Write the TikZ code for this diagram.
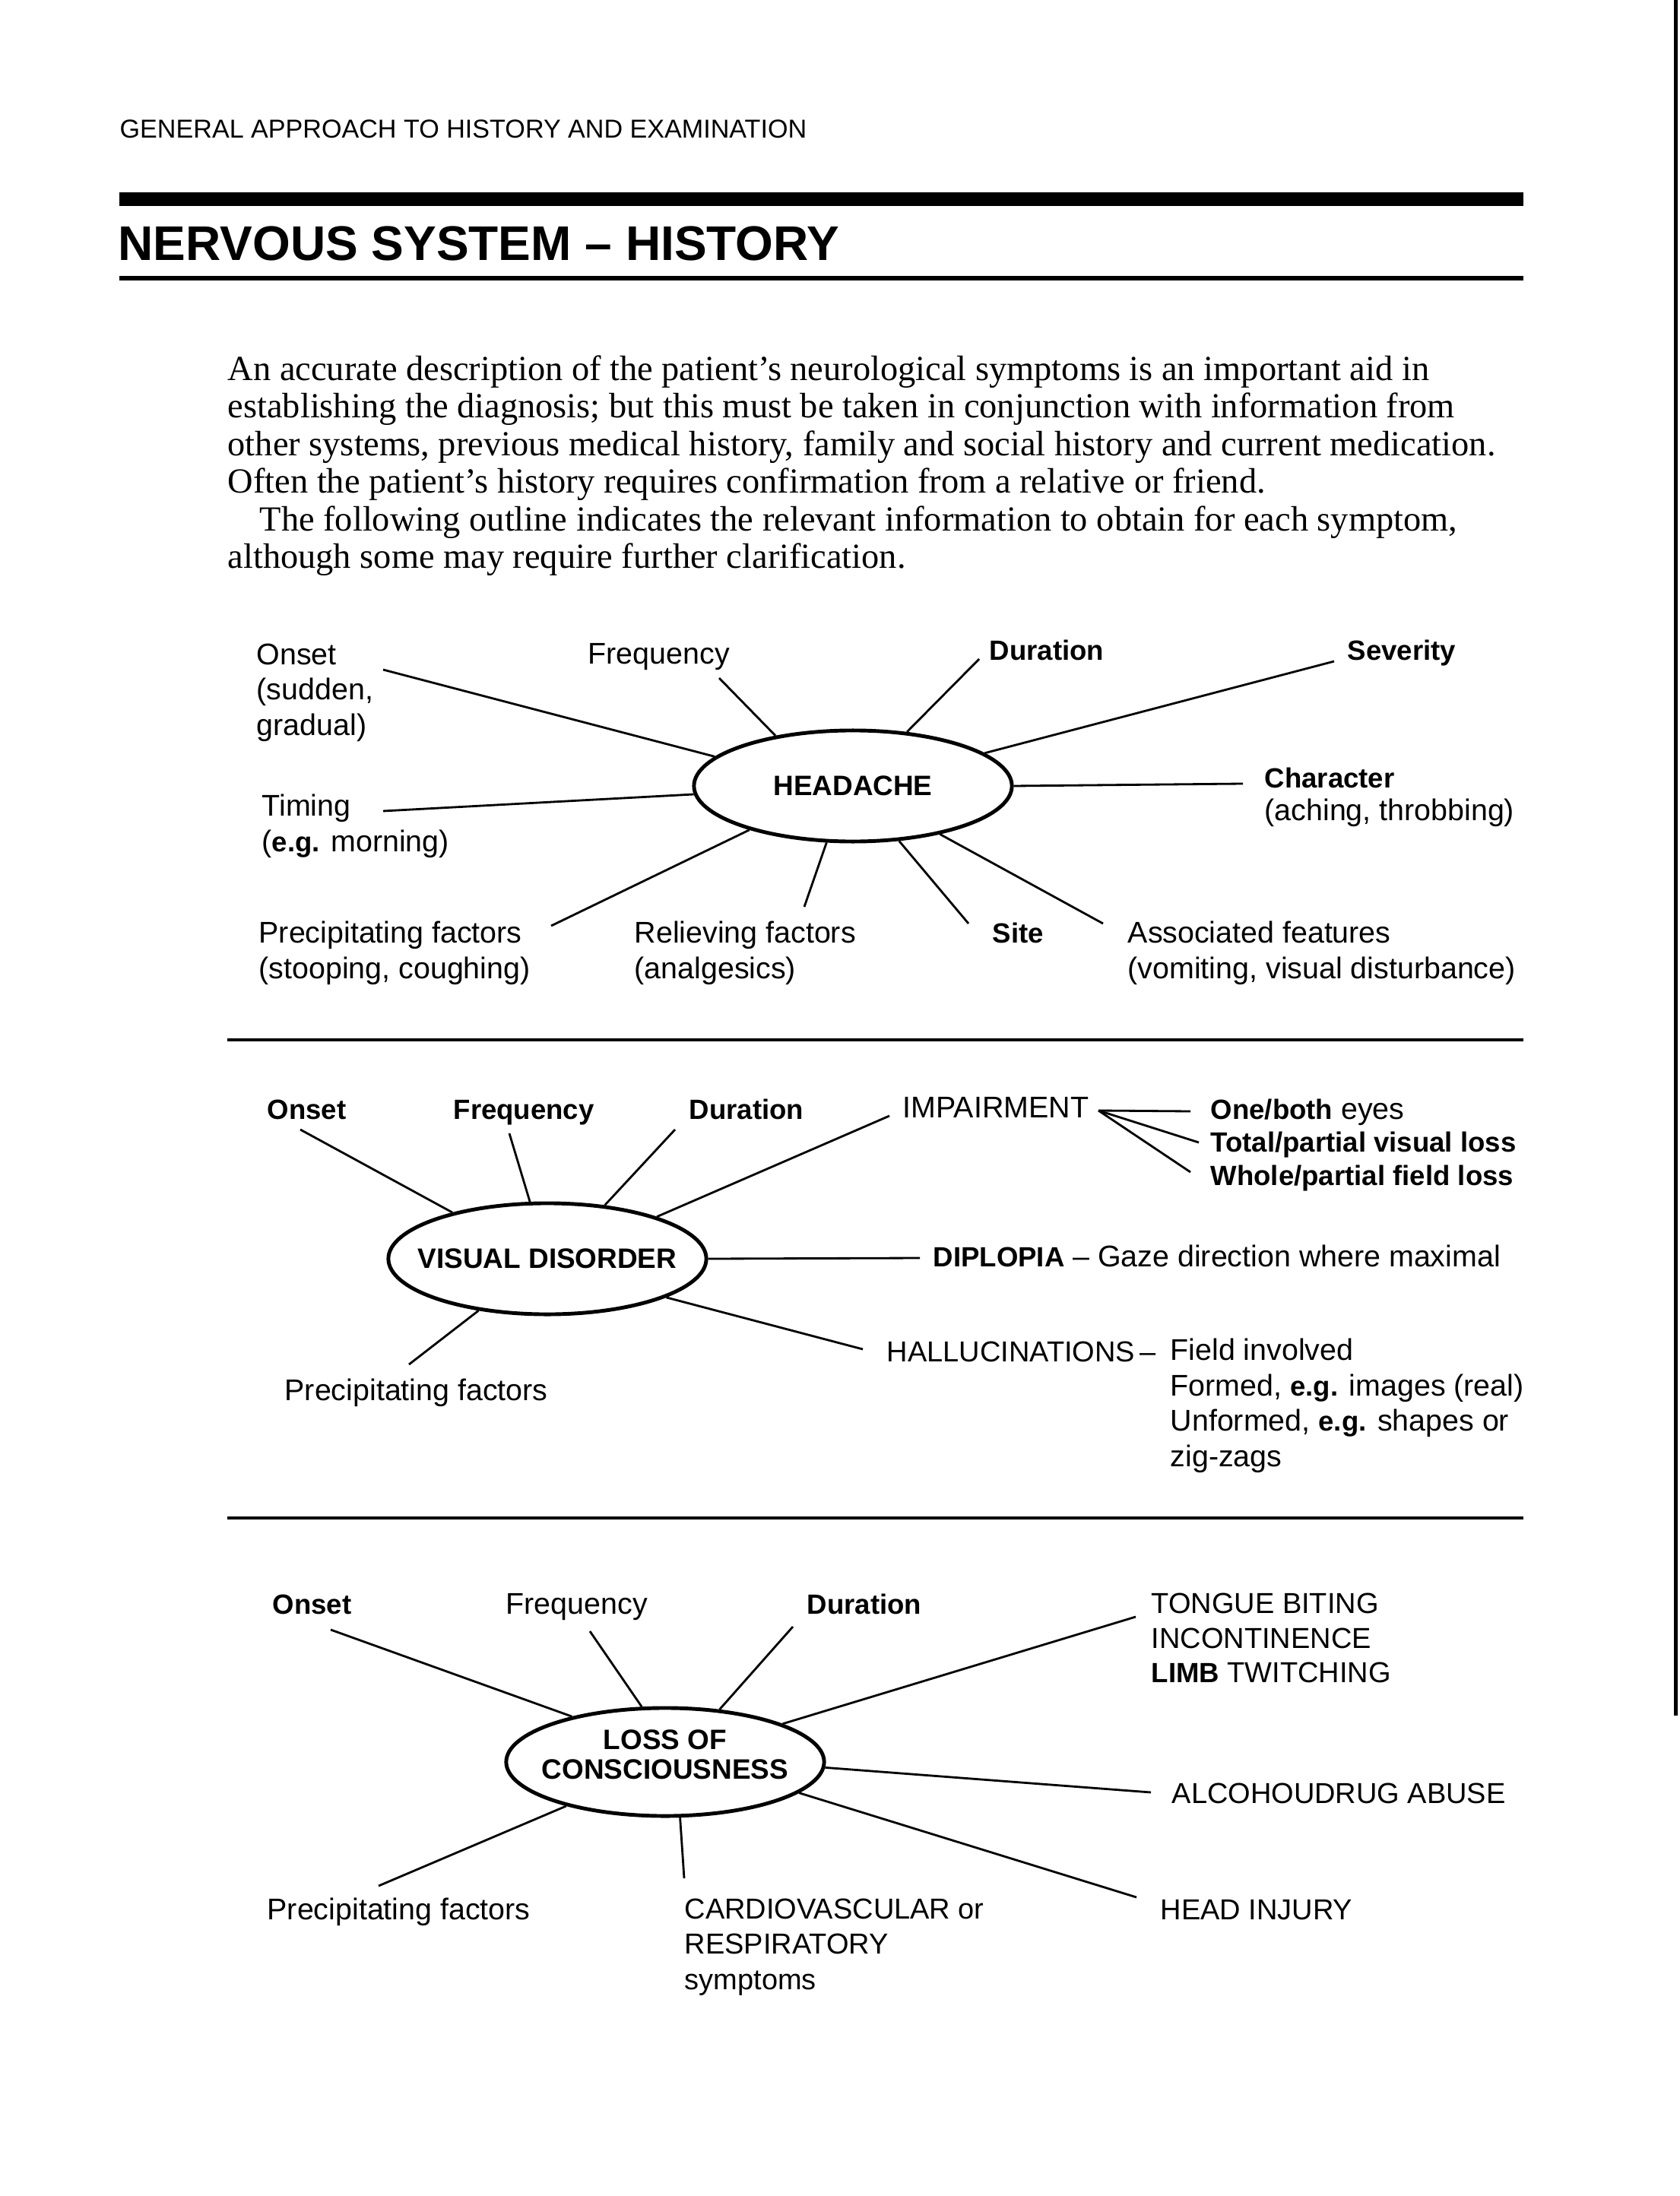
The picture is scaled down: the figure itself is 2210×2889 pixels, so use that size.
\documentclass[tikz,border=0pt]{standalone}
\usepackage{fontspec}
\setmainfont{Liberation Serif}
\setsansfont{Liberation Sans}
\usepackage{tikz}
\usetikzlibrary{shapes.geometric}

\newcommand{\leaffont}{\sffamily\fontsize{11.2}{13.2}\selectfont}
\newcommand{\capsfont}{\sffamily\fontsize{10.8}{13.2}\selectfont}
\newcommand{\hubfont}{\sffamily\bfseries\fontsize{10.5}{11.2}\selectfont}
\newcommand{\bl}[1]{{\fontsize{10.4}{13.2}\selectfont\bfseries #1}}

\tikzset{
  hub/.style={ellipse, draw, line width=1.4pt, minimum width=4.18cm, minimum height=1.46cm,
    inner xsep=-0.35cm, inner ysep=0pt, align=center, font=\hubfont},
  leaf/.style={anchor=base west, inner sep=0pt, align=left, font=\leaffont},
  capsleaf/.style={leaf, font=\capsfont},
  spoke/.style={line width=0.8pt},
  sepline/.style={line width=1.1pt}
}

\begin{document}
\begin{tikzpicture}[x=0.01cm, y=-0.01cm]
    \useasboundingbox (0,0) rectangle (2210,2889);

    % Page heading and rules
    \node[anchor=base west, inner sep=0pt, font=\sffamily\fontsize{9.7}{11}\selectfont] (runhead) at (157,182)
        {GENERAL APPROACH TO HISTORY AND EXAMINATION};
    \fill (157,253) rectangle (2004,271);
    \node[anchor=base west, inner sep=0pt, font=\sffamily\bfseries\fontsize{18.2}{20}\selectfont] (title) at (155,343)
        {NERVOUS SYSTEM -- HISTORY};
    \draw[line width=0.06cm] (157,366) -- (2004,366);
    \draw[line width=0.05cm] (2204,0) -- (2204,2257);

    % Introduction (base = last line)
    \node[anchor=base west, inner sep=0pt, align=left, font=\fontsize{13.2}{14.1}\selectfont] (intro) at (299,748)
        {An accurate description of the patient's neurological symptoms is an important aid in\\
         establishing the diagnosis; but this must be taken in conjunction with information from\\
         other systems, previous medical history, family and social history and current medication.\\
         Often the patient's history requires confirmation from a relative or friend.\\
         \hspace*{0.42cm}The following outline indicates the relevant information to obtain for each symptom,\\
         although some may require further clarification.};

    % Headache
    \node[hub] (hd) at (1122,1034) {HEADACHE};
    \node[leaf] (hOnset) at (337,967) {Onset\\(sudden,\\gradual)};
    \node[leaf] (hFreq) at (773,874) {Frequency};
    \node[leaf] (hDur) at (1301,869) {\bl{Duration}};
    \node[leaf] (hSev) at (1772,869) {\bl{Severity}};
    \node[leaf, font=\sffamily\fontsize{11.2}{12}\selectfont] (hChar) at (1663,1079) {\bl{Character}\\(aching, throbbing)};
    \node[leaf] (hTim) at (344,1120) {Timing\\(\bl{e.g.} morning)};
    \node[leaf] (hPrec) at (340,1287) {Precipitating factors\\(stooping, coughing)};
    \node[leaf] (hRel) at (834,1287) {Relieving factors\\(analgesics)};
    \node[leaf] (hSite) at (1305,1240) {\bl{Site}};
    \node[leaf] (hAssoc) at (1483,1287) {Associated features\\(vomiting, visual disturbance)};
    \coordinate (hOnEnd) at (504,881);
    \coordinate (hFrEnd) at (946,892);
    \coordinate (hDuEnd) at (1288,867);
    \coordinate (hSeEnd) at (1755,870);
    \coordinate (hChEnd) at (1635,1031);
    \coordinate (hTiEnd) at (504,1067);
    \coordinate (hPrEnd) at (725,1218);
    \coordinate (hReEnd) at (1058,1193);
    \coordinate (hSiEnd) at (1274,1215);
    \coordinate (hAsEnd) at (1451,1215);
    \foreach \ang/\tip in {168/hOnEnd, 147/hFrEnd, 45/hDuEnd, 14/hSeEnd, 0/hChEnd,
                           183/hTiEnd, 203/hPrEnd, 245/hReEnd, 310/hSiEnd, 331/hAsEnd}
        \draw[spoke] (\tip) -- (hd.\ang);

    \draw[sepline] (299,1368) -- (2004,1368);

    % Visual disorder
    \node[hub] (vd) at (720,1656) {VISUAL DISORDER};
    \node[leaf] (vOnset) at (351,1472) {\bl{Onset}};
    \node[leaf] (vFreq) at (596,1472) {\bl{Frequency}};
    \node[leaf] (vDur) at (906,1472) {\bl{Duration}};
    \node[leaf] (vImp) at (1187,1470) {IMPAIRMENT};
    \node[leaf, font=\sffamily\fontsize{11.2}{12.3}\selectfont] (vEyes) at (1592,1559)
        {\bl{One/both} eyes\\\bl{Total/partial visual loss}\\\bl{Whole/partial field loss}};
    \node[leaf] (vDip) at (1227,1666) {\bl{DIPLOPIA} -- Gaze direction where maximal};
    \node[capsleaf] (vHal) at (1166,1791) {HALLUCINATIONS\,--};
    \node[leaf] (vField) at (1539,1929)
        {Field involved\\Formed, \bl{e.g.} images (real)\\Unformed, \bl{e.g.} shapes or\\zig-zags};
    \node[leaf] (vPrec) at (374,1842) {Precipitating factors};
    \coordinate (vOnEnd) at (395,1486);
    \coordinate (vFrEnd) at (670,1491);
    \coordinate (vDuEnd) at (888,1486);
    \coordinate (vImEnd) at (1170,1468);
    \coordinate (vDiEnd) at (1210,1655);
    \coordinate (vHaEnd) at (1135,1775);
    \coordinate (vPrEnd) at (538,1795);
    \foreach \ang/\tip in {154/vOnEnd, 107/vFrEnd, 43/vDuEnd, 21/vImEnd, 0/vDiEnd,
                           342/vHaEnd, 217/vPrEnd}
        \draw[spoke] (\tip) -- (vd.\ang);
    % Impairment fan
    \coordinate (vFan) at (1445,1461);
    \coordinate (vEye1) at (1566,1462);
    \coordinate (vEye2) at (1577,1503);
    \coordinate (vEye3) at (1566,1542);
    \foreach \tip in {vEye1, vEye2, vEye3}
        \draw[spoke] (vFan) -- (\tip);

    \draw[sepline] (299,1997) -- (2004,1997);

    % Loss of consciousness
    \node[hub, minimum height=1.42cm] (lc) at (875,2318) {LOSS OF\\CONSCIOUSNESS\\[-0.2cm]};
    \node[leaf] (lOnset) at (358,2123) {\bl{Onset}};
    \node[leaf] (lFreq) at (665,2123) {Frequency};
    \node[leaf] (lDur) at (1061,2123) {\bl{Duration}};
    \node[capsleaf, font=\sffamily\fontsize{10.8}{12.8}\selectfont] (lSigns) at (1514,2213)
        {TONGUE BITING\\INCONTINENCE\\\bl{LIMB} TWITCHING};
    \node[capsleaf] (lAlc) at (1541,2372) {ALCOHOUDRUG ABUSE};
    \node[leaf] (lPrec) at (351,2525) {Precipitating factors};
    \node[capsleaf] (lCard) at (900,2617) {CARDIOVASCULAR or\\RESPIRATORY\\symptoms};
    \node[capsleaf] (lHead) at (1526,2525) {HEAD INJURY};
    \coordinate (lOnEnd) at (435,2144);
    \coordinate (lFrEnd) at (776,2146);
    \coordinate (lDuEnd) at (1043,2140);
    \coordinate (lToEnd) at (1494,2127);
    \coordinate (lAlEnd) at (1514,2358);
    \coordinate (lHeEnd) at (1495,2496);
    \coordinate (lCaEnd) at (900,2471);
    \coordinate (lPrEnd) at (498,2481);
    \foreach \ang/\tip in {154/lOnEnd, 113/lFrEnd, 44/lDuEnd, 18/lToEnd, 358/lAlEnd,
                           347/lHeEnd, 285/lCaEnd, 204/lPrEnd}
        \draw[spoke] (\tip) -- (lc.\ang);

\end{tikzpicture}
\end{document}
